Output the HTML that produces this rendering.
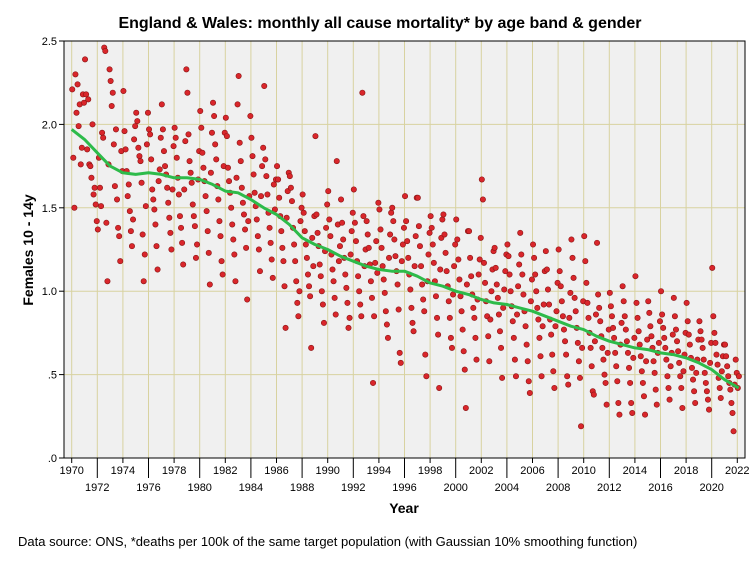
<!DOCTYPE html>
<html><head><meta charset="utf-8">
<style>
body{margin:0;background:#fff;}
svg{display:block;font-family:"Liberation Sans",Arial,sans-serif;}
</style></head>
<body>
<svg id="chart" width="754" height="564" viewBox="0 0 754 564">
<rect width="754" height="564" fill="#fff"/>
<text x="380" y="28" text-anchor="middle" font-size="16" font-weight="bold">England &amp; Wales: monthly all cause mortality* by age band &amp; gender</text>
<rect x="64" y="41" width="681" height="417" fill="#f0f0f0" stroke="#000" stroke-width="1"/>
<g id="grid"></g>
<g id="axes"></g>
<g id="marks"></g>
<text transform="translate(33,250) rotate(-90)" text-anchor="middle" font-size="14" font-weight="bold">Females 10 - 14y</text>
<text x="404" y="513" text-anchor="middle" font-size="14" font-weight="bold">Year</text>
<text x="18" y="546" font-size="13">Data source: ONS, *deaths per 100k of the same target population (with Gaussian 10% smoothing function)</text>
</svg>
<script>
const startYear = 1970;
const yTicks = [0, 0.5, 1.0, 1.5, 2.0, 2.5];
const yTickLabels = [".0", ".5", "1.0", "1.5", "2.0", "2.5"];
const xTicks = [1970,1972,1974,1976,1978,1980,1982,1984,1986,1988,1990,1992,1994,1996,1998,2000,2002,2004,2006,2008,2010,2012,2014,2016,2018,2020,2022];
const monthlyRates = [
2.21,1.80,1.50,2.30,2.07,2.24,1.99,2.12,1.76,1.86,2.18,2.13,
2.39,2.18,1.85,2.15,1.76,1.75,1.68,2.00,1.58,1.62,1.52,1.42,
1.37,1.80,1.62,1.51,1.95,1.92,2.46,2.44,1.41,1.06,1.76,2.33,
2.26,2.11,2.19,1.88,1.63,1.97,1.55,1.38,1.33,1.18,1.84,1.72,
2.20,1.96,1.85,1.72,1.57,1.64,1.48,1.36,1.27,1.43,1.91,1.99,
2.07,2.02,1.86,1.81,1.78,1.65,1.34,1.06,1.22,1.51,1.88,2.07,
1.97,1.94,1.79,1.61,1.55,1.49,1.40,1.27,1.13,1.66,1.73,1.92,
2.12,1.97,1.84,1.75,1.70,1.62,1.53,1.44,1.35,1.25,1.61,1.87,
1.98,1.92,1.80,1.68,1.58,1.45,1.38,1.29,1.16,1.61,1.90,2.33,
2.19,1.94,1.78,1.71,1.65,1.52,1.45,1.39,1.20,1.28,1.67,1.84,
2.08,1.98,1.83,1.74,1.66,1.57,1.48,1.36,1.23,1.04,1.71,1.95,
2.13,2.05,1.88,1.79,1.63,1.55,1.42,1.33,1.18,1.10,1.75,1.95,
2.04,1.93,1.74,1.66,1.59,1.50,1.40,1.31,1.22,1.06,1.68,2.12,
2.29,1.89,1.78,1.62,1.53,1.46,1.37,1.26,0.95,1.42,1.57,2.05,
1.92,1.81,1.70,1.59,1.51,1.43,1.33,1.25,1.12,1.57,1.75,1.86,
2.23,1.79,1.69,1.58,1.47,1.38,1.29,1.19,1.08,1.64,1.49,1.67,
1.75,1.67,1.56,1.45,1.36,1.26,1.18,1.03,0.78,1.44,1.60,1.71,
1.69,1.62,1.54,1.38,1.28,1.18,1.06,0.93,0.85,1.00,1.42,1.50,
1.58,1.47,1.36,1.28,1.20,1.10,1.03,0.97,0.66,1.32,1.15,1.45,
1.93,1.46,1.35,1.27,1.16,1.09,1.00,0.92,0.81,1.24,1.38,1.52,
1.60,1.43,1.33,1.22,1.13,1.06,0.96,0.86,1.78,1.40,1.18,1.27,
1.55,1.41,1.31,1.20,1.10,1.02,0.93,0.78,0.84,1.22,1.36,1.47,
1.61,1.41,1.30,1.18,1.09,1.00,0.92,0.85,2.19,1.45,1.15,1.25,
1.42,1.34,1.26,1.16,1.06,0.96,0.45,0.85,1.17,1.30,1.11,1.53,
1.49,1.37,1.26,1.15,1.07,0.99,0.88,0.80,0.72,1.20,1.34,1.47,
1.50,1.42,1.31,1.21,1.12,1.04,0.89,0.63,0.57,1.18,1.28,1.38,
1.57,1.42,1.30,1.20,1.10,1.01,0.90,0.81,0.76,1.15,1.33,1.56,
1.56,1.39,1.27,1.15,1.04,0.95,0.88,0.62,0.49,1.06,1.22,1.35,
1.45,1.38,1.28,1.17,1.06,0.97,0.84,0.74,0.42,1.13,1.32,1.43,
1.46,1.34,1.23,1.12,1.03,0.94,0.84,0.72,0.66,0.98,1.15,1.28,
1.43,1.31,1.19,1.07,0.97,0.88,0.77,0.64,0.53,0.30,1.04,1.36,
1.36,1.20,1.09,0.98,0.90,0.84,0.72,0.59,0.95,1.10,1.19,1.32,
1.67,1.55,1.17,1.05,0.94,0.85,0.73,0.58,0.83,1.00,1.13,1.24,
1.26,1.14,1.04,0.96,0.86,0.76,0.66,0.48,0.90,1.01,1.12,1.22,
1.28,1.21,1.10,1.00,0.91,0.82,0.72,0.59,0.49,0.86,1.03,1.16,
1.35,1.22,1.10,0.98,0.88,0.79,0.68,0.58,0.46,0.39,0.94,1.07,
1.28,1.20,1.10,1.00,0.90,0.83,0.72,0.61,0.49,0.79,0.92,1.12,
1.24,1.13,1.01,0.92,0.83,0.74,0.62,0.52,0.42,0.79,0.88,1.05,
1.25,1.12,1.03,0.94,0.85,0.77,0.70,0.62,0.49,0.44,0.84,0.99,
1.31,1.20,1.08,0.96,0.88,0.78,0.69,0.58,0.48,0.19,0.66,0.94,
1.33,1.18,1.05,0.93,0.84,0.75,0.66,0.55,0.40,0.38,0.70,0.86,
1.29,0.98,0.90,0.82,0.73,0.66,0.59,0.50,0.45,0.32,0.63,0.77,
0.99,0.91,0.85,0.78,0.72,0.63,0.55,0.46,0.33,0.26,0.68,0.81,
1.03,0.94,0.85,0.77,0.70,0.63,0.54,0.45,0.33,0.27,0.60,0.72,
1.09,0.93,0.84,0.76,0.68,0.61,0.52,0.45,0.37,0.26,0.58,0.71,
0.94,0.87,0.79,0.73,0.66,0.58,0.51,0.41,0.32,0.63,0.69,0.82,
1.00,0.86,0.78,0.72,0.66,0.59,0.49,0.42,0.35,0.55,0.63,0.74,
0.96,0.85,0.77,0.70,0.64,0.57,0.49,0.42,0.30,0.52,0.62,0.75,
0.93,0.82,0.74,0.68,0.60,0.54,0.47,0.40,0.33,0.51,0.59,0.71,
0.82,0.76,0.71,0.66,0.59,0.51,0.45,0.40,0.35,0.29,0.57,0.69,
1.14,0.85,0.75,0.69,0.62,0.56,0.48,0.42,0.36,0.52,0.61,0.68,
0.68,0.61,0.55,0.49,0.45,0.41,0.33,0.27,0.16,0.44,0.59,0.51,
0.42,0.49
];
const smoothYears = [1970,1971,1972,1973,1974,1975,1976,1977,1978,1979,1980,1981,1982,1983,1984,1985,1986,1987,1988,1989,1990,1991,1992,1993,1994,1995,1996,1997,1998,1999,2000,2001,2002,2003,2004,2005,2006,2007,2008,2009,2010,2011,2012,2013,2014,2015,2016,2017,2018,2019,2020,2021,2022.1];
const smoothValues = [1.97,1.91,1.83,1.75,1.71,1.70,1.71,1.70,1.68,1.68,1.67,1.64,1.60,1.59,1.55,1.50,1.46,1.40,1.32,1.28,1.25,1.21,1.18,1.15,1.13,1.12,1.12,1.09,1.05,1.03,1.00,0.98,0.95,0.93,0.92,0.90,0.88,0.85,0.82,0.79,0.77,0.73,0.70,0.68,0.66,0.65,0.63,0.62,0.60,0.57,0.53,0.47,0.42];

const NS = "http://www.w3.org/2000/svg";
const plotL = 64, plotR = 745, plotT = 41, plotB = 458;
function xScale(yr){ return 71.7 + (yr - 1970) * 12.8; }
function yScale(v){ return 458 - v * 166.8; }
function mk(tag, attrs, parent){ const e = document.createElementNS(NS, tag); for (const k in attrs) e.setAttribute(k, attrs[k]); parent.appendChild(e); return e; }

const grid = document.getElementById('grid');
const axes = document.getElementById('axes');
const marks = document.getElementById('marks');

xTicks.forEach((t, i) => {
  const x = xScale(t);
  const gl = mk('line', {x1:x, x2:x, y1:plotT, y2:plotB, stroke:'#d8d2a0', 'stroke-width':1}, grid);
  
  
  const low = i % 2 === 1;
  const tk = mk('line', {x1:x, x2:x, y1:plotB, y2:plotB + (low ? 20 : 5), stroke:'#000', 'stroke-width':1}, axes);
  
  
  const lb = mk('text', {x:x, y: low ? 491 : 474, 'text-anchor':'middle', 'font-size':11}, axes);
  lb.textContent = t;
  
  
});
yTicks.forEach((t, i) => {
  const y = yScale(t);
  const gl = mk('line', {x1:plotL, x2:plotR, y1:y, y2:y, stroke:'#d8d2a0', 'stroke-width':1}, grid);
  
  
  const tk = mk('line', {x1:plotL - 5, x2:plotL, y1:y, y2:y, stroke:'#000', 'stroke-width':1}, axes);
  
  
  const lb = mk('text', {x:plotL - 7, y:y + 4, 'text-anchor':'end', 'font-size':11}, axes);
  lb.textContent = yTickLabels[i];
  
  
});
mk('rect', {x:plotL, y:plotT, width:plotR-plotL, height:plotB-plotT, fill:'none', stroke:'#000'}, axes);

monthlyRates.forEach((v, i) => {
  const yr = startYear + (i + 0.5) / 12;
  const c = mk('circle', {cx:xScale(yr), cy:yScale(v), r:2.7, fill:'#d9262b', stroke:'#8a1515', 'stroke-width':0.6}, marks);
  
  
});
const d = smoothYears.map((yr, i) => (i ? 'L' : 'M') + xScale(yr).toFixed(1) + ',' + yScale(smoothValues[i]).toFixed(1)).join(' ');
const line = mk('path', {d:d, fill:'none', stroke:'#2dbb4a', 'stroke-width':3, 'stroke-linejoin':'round'}, marks);


</script>
</body></html>
